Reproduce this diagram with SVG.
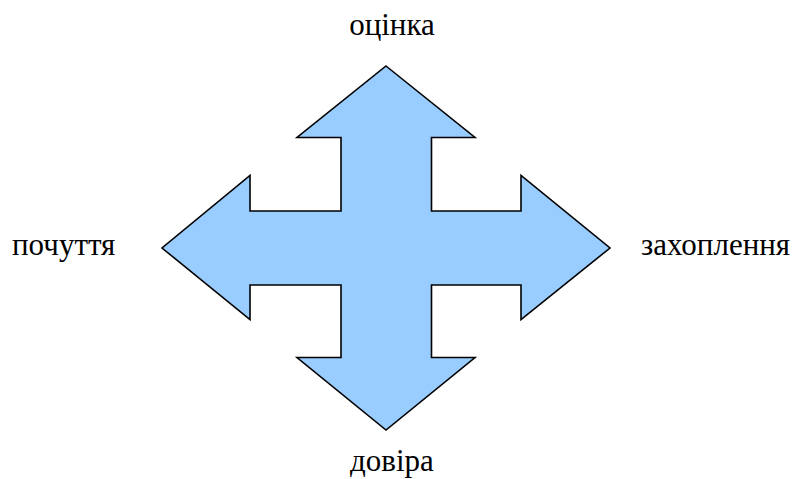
<svg xmlns="http://www.w3.org/2000/svg" width="797" height="479" viewBox="0 0 797 479">
<style>
.lbl{font-family:'Liberation Serif','DejaVu Serif',serif;font-size:31px;fill:#000}
.arr{fill:#99ccff;stroke:#000;stroke-width:1.6;stroke-linejoin:miter}
</style>
<rect width="797" height="479" fill="#fff"/>
<g id="cross-arrow">
<path class="arr" d="M386,66 L475,137.5 L431.5,137.5 L431.5,211 L521,211 L521,175.5 L610,248 L521,319.5 L521,285 L431.5,285 L431.5,357.5 L475,357.5 L386,430 L297,357.5 L341,357.5 L341,285 L250,285 L250,319.5 L162,248 L250,175.5 L250,211 L341,211 L341,137.5 L297,137.5 Z"/>
</g>
<g id="label-top"><text class="lbl" font-family="Liberation Serif, serif" x="392" y="35" text-anchor="middle">оцінка</text></g>
<g id="label-left"><text class="lbl" font-family="Liberation Serif, serif" x="12" y="255">почуття</text></g>
<g id="label-right"><text class="lbl" font-family="Liberation Serif, serif" x="641" y="255">захоплення</text></g>
<g id="label-bottom"><text class="lbl" font-family="Liberation Serif, serif" x="392" y="471" text-anchor="middle">довіра</text></g>
<g id="connectors"></g>
</svg>
